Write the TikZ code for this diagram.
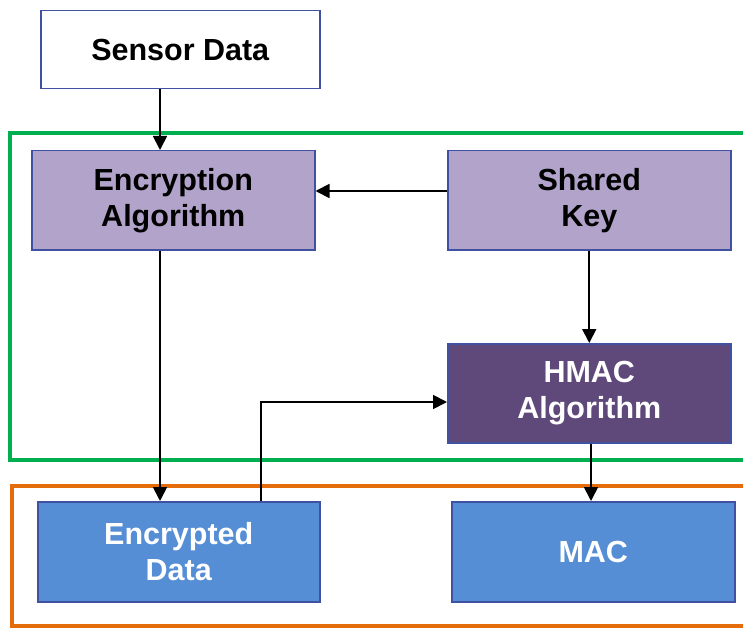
\documentclass[tikz,border=0pt]{standalone}
\usepackage{fontspec}
\setmainfont{Liberation Sans}
\usetikzlibrary{arrows.meta}
\definecolor{lpurple}{HTML}{B1A3C9}
\definecolor{dpurple}{HTML}{5F497A}
\definecolor{bblue}{HTML}{558ED5}
\definecolor{edgeblue}{HTML}{3F51A0}
\definecolor{fgreen}{HTML}{00B050}
\definecolor{forange}{HTML}{E46C0A}
\tikzset{
  box/.style={draw=edgeblue, line width=1.5pt, minimum width=283pt, minimum height=99pt,
    inner sep=0pt, align=center, font=\fontsize{30.5}{36}\selectfont\bfseries, anchor=north west},
  conn/.style={line width=1.8pt, -{Triangle[length=14pt,width=14pt]}},
  frame/.style={line width=4pt}
}
\begin{document}
\begin{tikzpicture}[x=1pt,y=-1pt]
\useasboundingbox (0,0) rectangle (743,628);
\clip (0,0) rectangle (743,628);
% frames
\draw[frame, fgreen] (760,133) -- (10,133) -- (10,460) -- (760,460);
\draw[frame, forange] (760,486) -- (12,486) -- (12,626) -- (760,626);
% boxes
\node[box, fill=white, minimum width=279pt, minimum height=78pt] (sensor) at (40,10) {Sensor Data};
\node[box, fill=lpurple] (enc) at (31,150) {Encryption\\Algorithm};
\node[box, fill=lpurple] (key) at (447,150) {Shared\\Key};
\node[box, fill=dpurple, text=white] (hmac) at (447,343) {HMAC\\Algorithm};
\node[box, fill=bblue, text=white, minimum width=282pt, minimum height=100pt] (encd) at (37,501) {Encrypted\\Data};
\node[box, fill=bblue, text=white, minimum width=283pt, minimum height=100pt] (mac) at (451,501) {MAC};
% connectors
\draw[conn] (sensor.south -| 160,0) -- (enc.north -| 160,0);
\coordinate (kl) at (0,191);
\draw[conn] (key.west |- kl) -- (enc.east |- kl);
\draw[conn] (key.south) -- (hmac.north);
\draw[conn] (enc.south -| 160,0) -- (encd.north -| 160,0);
\coordinate (bend) at (261,402);
\draw[conn] (encd.north -| bend) -- (bend) -- (hmac.west |- bend);
\draw[conn] (hmac.south -| 591,0) -- (mac.north -| 591,0);
\end{tikzpicture}
\end{document}
